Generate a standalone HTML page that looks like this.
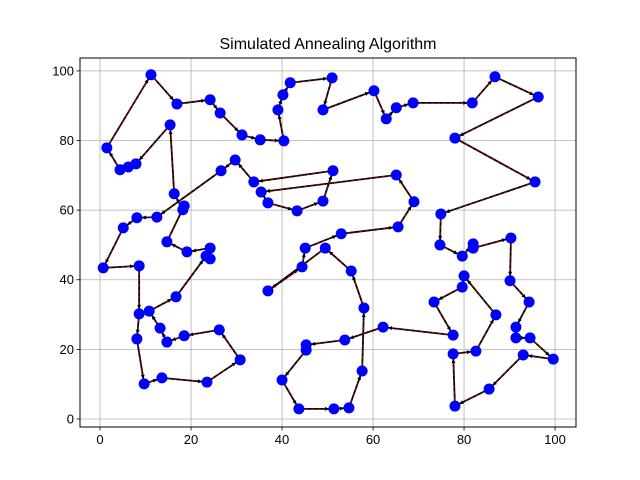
<!DOCTYPE html>
<html><head><meta charset="utf-8"><style>
body{margin:0;background:#fff;}
svg{display:block;font-family:"Liberation Sans","DejaVu Sans",sans-serif;}
</style></head><body>
<svg id="chart" width="640" height="480">
<text x="328" y="49" font-size="16" text-anchor="middle">Simulated Annealing Algorithm</text>
<g id="grid"></g>
<g id="route"></g>
<g id="pts"></g>
<rect x="80" y="58" width="496" height="369" fill="none" stroke="#000" stroke-width="1"/>
<g id="ticks"></g>
</svg>
<script>
const xs = [1.5,11.2,16.9,24.2,26.4,31.2,35.2,40.4,39.1,40.2,41.8,51.0,49.0,60.2,62.9,65.1,68.8,81.8,86.8,96.3,78.0,95.6,74.9,74.7,79.6,82.0,82.0,90.3,90.1,94.3,91.4,91.4,94.5,99.6,93.0,85.5,78.0,77.6,82.6,87.0,80.0,79.6,73.4,77.6,62.2,53.8,45.3,45.3,40.0,43.7,51.4,54.7,57.6,58.0,55.2,49.5,36.9,44.4,45.1,53.0,65.5,69.0,65.1,35.4,36.9,43.3,49.0,51.2,33.8,29.7,26.6,12.5,8.1,5.1,0.7,8.6,8.6,8.1,9.7,13.6,23.5,30.8,26.2,18.5,14.7,13.2,10.8,16.7,23.3,24.2,24.2,19.1,14.7,18.5,18.2,16.3,15.4,7.9,6.2,4.4];
const ys = [77.9,98.9,90.5,91.7,87.9,81.6,80.2,79.9,88.8,93.1,96.6,98.0,88.8,94.3,86.2,89.4,90.8,90.8,98.3,92.5,80.7,68.1,58.9,50.0,46.8,50.3,49.1,52.0,39.7,33.6,26.4,23.3,23.3,17.2,18.4,8.6,3.7,18.7,19.5,29.9,41.1,37.9,33.6,24.1,26.4,22.7,21.3,19.8,11.2,2.9,2.9,3.2,13.8,31.9,42.5,49.1,36.8,43.7,49.1,53.2,55.2,62.4,70.1,65.2,62.1,59.8,62.6,71.3,68.1,74.4,71.3,58.0,57.8,54.9,43.4,44.0,30.2,23.0,10.1,11.8,10.6,17.0,25.6,23.9,22.1,26.1,31.0,35.1,46.8,46.0,49.1,48.0,50.9,61.2,60.1,64.7,84.5,73.3,72.4,71.6];
const xTicks = [0,20,40,60,80,100];
const yTicks = [0,20,40,60,80,100];

const L=80,R=576,T=58,B=427, X0=-4.4,X1=104.6,Y0=-2.3,Y1=103.7;
const sx=v=>L+(v-X0)/(X1-X0)*(R-L);
const sy=v=>B-(v-Y0)/(Y1-Y0)*(B-T);
const NS="http://www.w3.org/2000/svg";
function mk(tag,attrs,parent){const e=document.createElementNS(NS,tag);for(const k in attrs)e.setAttribute(k,attrs[k]);parent.appendChild(e);return e;}
const grid=document.getElementById('grid'),ticks=document.getElementById('ticks'),route=document.getElementById('route'),pts=document.getElementById('pts');
xTicks.forEach(t=>{const x=sx(t);
 let g=mk('line',{x1:x,x2:x,y1:T,y2:B,stroke:'#b0b0b0','stroke-width':0.8},grid);
 
 
 let k=mk('line',{x1:x,x2:x,y1:B,y2:B+3.5,stroke:'#000','stroke-width':0.8},ticks);
 
 
 let tx=mk('text',{x:x,y:B+17,'font-size':13,'text-anchor':'middle'},ticks);tx.textContent=t;
 
 
});
yTicks.forEach(t=>{const y=sy(t);
 let g=mk('line',{x1:L,x2:R,y1:y,y2:y,stroke:'#b0b0b0','stroke-width':0.8},grid);
 
 
 let k=mk('line',{x1:L-3.5,x2:L,y1:y,y2:y,stroke:'#000','stroke-width':0.8},ticks);
 
 
 let tx=mk('text',{x:L-6,y:y+4.5,'font-size':13,'text-anchor':'end'},ticks);tx.textContent=t;
 
 
});
const n=xs.length;
for(let i=0;i<n;i++){const j=(i+1)%n;
 const x1=sx(xs[i]),y1=sy(ys[i]),x2=sx(xs[j]),y2=sy(ys[j]);
 let s=mk('line',{x1,y1,x2,y2,stroke:'#000','stroke-width':1.8},route);
 
 
 let d=mk('line',{x1,y1,x2,y2,stroke:'#c00000','stroke-width':0.8,'stroke-dasharray':'3,3'},route);
 
 
 const dx=x2-x1,dy=y2-y1,len=Math.hypot(dx,dy)||1,ux=dx/len,uy=dy/len;
 const tx=x2-ux*5,ty=y2-uy*5;
 let a=mk('polygon',{points:`${tx},${ty} ${tx-ux*4-uy*2},${ty-uy*4+ux*2} ${tx-ux*4+uy*2},${ty-uy*4-ux*2}`,fill:'#000'},route);
 
 
}
for(let i=0;i<n;i++){
 let c=mk('circle',{cx:sx(xs[i]),cy:sy(ys[i]),r:5.5,fill:'#0000ff'},pts);
 
 
}
</script>
</body></html>
